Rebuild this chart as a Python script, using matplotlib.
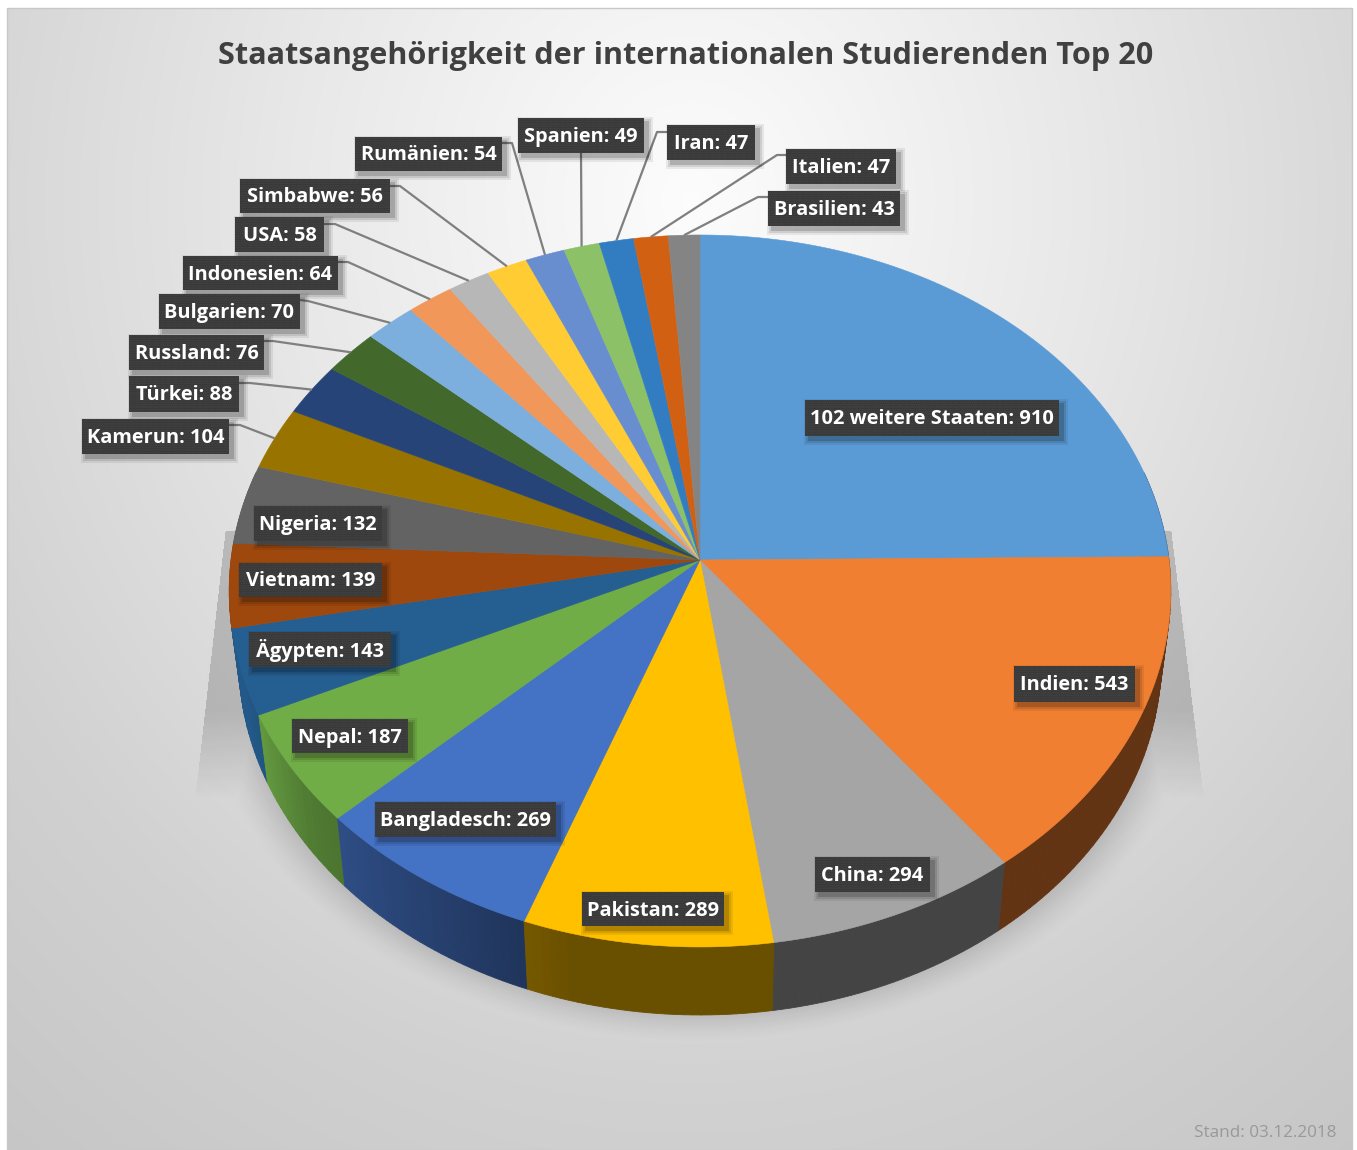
from matplotlib import pyplot as plt
from matplotlib.patches import Polygon, Rectangle
import numpy as np

names = ["102 weitere Staaten", "Indien", "China", "Pakistan", "Bangladesch", "Nepal", "Ägypten",
         "Vietnam", "Nigeria", "Kamerun", "Türkei", "Russland", "Bulgarien", "Indonesien", "USA",
         "Simbabwe", "Rumänien", "Spanien", "Iran", "Italien", "Brasilien"]
values = [910, 543, 294, 289, 269, 187, 143, 139, 132, 104, 88, 76, 70, 64, 58, 56, 54, 49, 47, 47, 43]
colors = ["#5B9BD5", "#F07F32", "#A5A5A5", "#FFC000", "#4472C4", "#70AD47", "#255E91", "#9E480E",
          "#636363", "#997300", "#264478", "#43682B", "#7CAFDD", "#F1975A", "#B7B7B7", "#FFCD33",
          "#698ED0", "#8CC168", "#327DC2", "#D26012", "#848484"]

# label boxes in pixels: left, right, top, bottom
boxes = [(805, 1059, 400, 436), (1014, 1135, 666, 702), (815, 930, 857, 892), (582, 724, 892, 926),
         (375, 556, 802, 837), (292, 408, 719, 753), (249, 391, 632, 667), (239, 382, 563, 597),
         (254, 382, 506, 541), (82, 229, 419, 454), (129, 239, 376, 412), (129, 264, 335, 370),
         (159, 300, 294, 329), (183, 338, 256, 290), (235, 324, 217, 252), (240, 390, 179, 213),
         (355, 502, 137, 171), (518, 644, 118, 153), (667, 755, 125, 160), (786, 896, 149, 184),
         (768, 900, 191, 226)]
# leader start points, None for labels sitting on their slice
leaders = [None, None, None, None, None, None, None, None, None,
           [(229, 425), (240, 425)], [(239, 383), (250, 383)], [(264, 341), (273, 341)],
           [(300, 300), (308, 301)], [(338, 262), (348, 262)], [(324, 224), (335, 224)],
           [(390, 186), (400, 186)], [(502, 143), (512, 143)], [(581, 153)],
           [(667, 132), (657, 132)], [(786, 155), (777, 155)], [(768, 197), (758, 197)]]

W, H = 1357, 1150
cx, cy = 700, 560
rx, ry, k = 469, 353.3, 0.087
depth, shrink = 68, 0.98


def project(t):
    a = 2 * np.pi * np.asarray(t)
    u, v = np.sin(a), -np.cos(a)
    return cx + rx * u / (1 - k * v), cy + ry * v / (1 - k * v)


def darker(color, f):
    r, g, b = plt.matplotlib.colors.to_rgb(color)
    return (r * f, g * f, b * f)


def side_light(t):
    # left part of the rim is lit, the front and right are dark
    u = np.sin(2 * np.pi * t)
    return np.interp(-u, [0.25, 0.6, 0.8, 0.95], [0.41, 0.6, 0.72, 0.95])


fig = plt.figure(figsize=(W / 100, H / 100), dpi=100)
ax = fig.add_axes([0, 0, 1, 1])
ax.set_xlim(0, W)
ax.set_ylim(H, 0)
ax.axis("off")

# background gradient
yy, xx = np.mgrid[0:H, 0:W]
d = np.sqrt(((xx - 690) / 800.0) ** 2 + ((yy - 200) / 900.0) ** 2)
grey = np.interp(d, [0, 0.5, 1.0, 1.5], [0.99, 0.91, 0.82, 0.76])
x0, x1, y0, y1 = 7, 1352, 8, 1150
bg = np.dstack([grey, grey, grey])
bg[(xx < x0) | (xx > x1) | (yy < y0) | (yy > y1)] = 1
ax.imshow(bg, extent=(0, W, H, 0), aspect="auto", zorder=0, interpolation="bilinear")
ax.add_patch(Rectangle((x0, y0), x1 - x0, y1 - y0, fill=False, edgecolor="#c8c8c8", linewidth=1, zorder=1))

# soft shadow behind the pie
r = np.sqrt(((xx - 700) / 500.0) ** 2 + ((yy - 680) / 365.0) ** 2)
soft = np.clip((1 - r) / 0.17, 0, 1)
soft = soft * soft * (3 - 2 * soft)
left_edge = 224 - (yy - 540) * 26 / 230.0
right_edge = 1172 + (yy - 540) * 28 / 230.0
strip = ((xx > left_edge) & (xx < right_edge) & (yy > 530)) * np.clip((800 - yy) / 90.0, 0, 1)
alpha = np.maximum(soft * 0.24, strip * 0.17)
alpha[(yy > 1040) | (yy < 530)] = 0
shadow = np.zeros((H, W, 4))
shadow[..., 3] = alpha
ax.imshow(shadow, extent=(0, W, H, 0), aspect="auto", zorder=2, interpolation="bilinear")

fractions = np.cumsum([0] + values) / float(sum(values))

# rim of the pie, cut in thin strips for the shading, front strips on top
for i in range(len(values)):
    start, end = fractions[i], fractions[i + 1]
    n = max(2, int((end - start) * 360))
    ts = np.linspace(start, end, n + 1)
    px, py = project(ts)
    qx = cx + (px - cx) * shrink
    qy = py + depth
    for j in range(n):
        if np.cos(2 * np.pi * ts[j]) > 0.25 and np.cos(2 * np.pi * ts[j + 1]) > 0.25:
            continue
        mid = (ts[j] + ts[j + 1]) / 2
        c = darker(colors[i], side_light(mid))
        ax.add_patch(Polygon([(px[j], py[j]), (px[j + 1], py[j + 1]), (qx[j + 1], qy[j + 1]), (qx[j], qy[j])],
                             facecolor=c, edgecolor=c, linewidth=0.6, zorder=3.5 - 0.4 * np.cos(2 * np.pi * mid)))

# top face
for i in range(len(values)):
    ts = np.linspace(fractions[i], fractions[i + 1], 80)
    px, py = project(ts)
    pts = [(cx, cy)] + list(zip(px, py))
    ax.add_patch(Polygon(pts, facecolor=colors[i], edgecolor=colors[i], linewidth=0.4, zorder=4))

# leader lines
for i in range(len(values)):
    if leaders[i] is None:
        continue
    ex, ey = project((fractions[i] + fractions[i + 1]) / 2)
    pts = leaders[i] + [(float(ex), float(ey))]
    ax.plot([p[0] for p in pts], [p[1] for p in pts], color="#7f7f7f", linewidth=1.6, zorder=5,
            solid_capstyle="butt")

# data labels
for i in range(len(values)):
    l, rgt, t, b = boxes[i]
    for grow, a in [(5, 0.07), (3, 0.10), (1, 0.16)]:
        ax.add_patch(Rectangle((l + 4 - grow, t + 4 - grow), rgt - l + 2 * grow, b - t + 2 * grow,
                               facecolor="black", alpha=a, edgecolor="none", zorder=6))
    ax.add_patch(Rectangle((l, t), rgt - l, b - t, facecolor="#363636", edgecolor="#464646",
                           hatch=".......", linewidth=0, zorder=7))
    ax.text((l + rgt) / 2, (t + b) / 2 + 1.5, names[i] + ": " + str(values[i]), color="white", fontsize=14.4,
            fontweight="bold", family="Open Sans", ha="center", va="center", zorder=8)

ax.text(686, 56, "Staatsangehörigkeit der internationalen Studierenden Top 20", color="#404040",
        fontsize=22.1, fontweight="bold", family="Open Sans", ha="center", va="center", zorder=8)
ax.text(1336, 1133, "Stand: 03.12.2018", color="#999999", fontsize=12.3, family="Open Sans",
        ha="right", va="center", zorder=8)

fig.savefig("out.png", dpi=100)
